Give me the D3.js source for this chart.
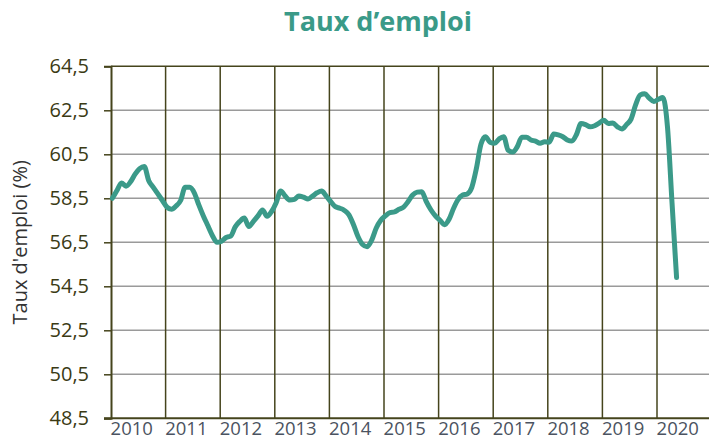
<!DOCTYPE html>
<html>
<head>
<meta charset="utf-8">
<script src="https://cdn.jsdelivr.net/npm/d3@7"></script>
<style>
    body { margin: 0; background: #fff; }
    svg { display: block; font-family: 'Open Sans', sans-serif; }
</style>
</head>
<body>
<div id="chart"></div>
<script>
// Monthly values, Jan 2010 -> May 2020.
const START_YEAR = 2010;
const VALUES_2010 = [58.5, 58.85, 59.2, 59.05, 59.25, 59.6, 59.85, 59.95, 59.3, 59.0, 58.7, 58.4];
const VALUES_2011 = [58.1, 58.0, 58.15, 58.4, 59.0, 59.0, 58.75, 58.2, 57.7, 57.25, 56.8, 56.5];
const VALUES_2012 = [56.55, 56.72, 56.78, 57.2, 57.45, 57.6, 57.22, 57.45, 57.7, 57.97, 57.68, 57.9];
const VALUES_2013 = [58.3, 58.83, 58.6, 58.42, 58.45, 58.6, 58.55, 58.47, 58.6, 58.75, 58.83, 58.6];
const VALUES_2014 = [58.35, 58.12, 58.05, 57.95, 57.75, 57.3, 56.75, 56.4, 56.3, 56.6, 57.15, 57.5];
const VALUES_2015 = [57.7, 57.85, 57.88, 58.0, 58.1, 58.35, 58.65, 58.78, 58.8, 58.35, 57.98, 57.7];
const VALUES_2016 = [57.5, 57.3, 57.55, 58.05, 58.45, 58.65, 58.7, 59.0, 59.85, 60.95, 61.3, 61.05];
const VALUES_2017 = [61.0, 61.2, 61.3, 60.68, 60.6, 60.85, 61.28, 61.28, 61.15, 61.1, 61.0, 61.07];
const VALUES_2018 = [61.05, 61.42, 61.38, 61.3, 61.15, 61.1, 61.4, 61.9, 61.85, 61.75, 61.8, 61.92];
const VALUES_2019 = [62.05, 61.9, 61.92, 61.75, 61.65, 61.85, 62.1, 62.75, 63.2, 63.25, 63.05, 62.9];
const VALUES_2020 = [63.0, 63.08, 61.75, 58.3, 54.9];

const YEARS = [2010, 2011, 2012, 2013, 2014, 2015, 2016, 2017, 2018, 2019, 2020];
const Y_TICKS = [48.5, 50.5, 52.5, 54.5, 56.5, 58.5, 60.5, 62.5, 64.5];

const values = [].concat(VALUES_2010, VALUES_2011, VALUES_2012, VALUES_2013, VALUES_2014,
    VALUES_2015, VALUES_2016, VALUES_2017, VALUES_2018, VALUES_2019, VALUES_2020);

const width = 709, height = 439;
const margin = {top: 66.3, left: 111, bottom: 418.3};
const olive = '#45441c';

const svg = d3.select('#chart').append('svg')
    .attr('width', width)
    .attr('height', height);

const x = d3.scaleLinear().domain([2010, 2021]).range([margin.left, 711.6]);
const y = d3.scaleLinear().domain([48.5, 64.5]).range([margin.bottom, margin.top]);

// Horizontal grid lines.
svg.append('g').selectAll('line')
    .data(Y_TICKS.slice(1, -1))
    .join('line')
    .attr('x1', x(2010)).attr('x2', width)
    .attr('y1', d => y(d)).attr('y2', d => y(d))
    .attr('stroke', '#9a9a9a')
    .attr('stroke-width', 1.5);

// Top border.
svg.append('line')
    .attr('x1', x(2010)).attr('x2', width)
    .attr('y1', y(64.5)).attr('y2', y(64.5))
    .attr('stroke', olive).attr('stroke-width', 1.5);

// Vertical year lines.
svg.append('g').selectAll('line')
    .data(YEARS.slice(1))
    .join('line')
    .attr('x1', d => x(d)).attr('x2', d => x(d))
    .attr('y1', y(64.5)).attr('y2', y(48.5))
    .attr('stroke', olive)
    .attr('stroke-width', 1.5);

// Y axis with ticks to the left.
const yAxisG = svg.append('g')
    .attr('transform', `translate(${x(2010)},0)`)
    .call(d3.axisLeft(y).tickValues(Y_TICKS).tickSize(7).tickPadding(15)
        .tickFormat(d => d3.format('.1f')(d).replace('.', ',')));
yAxisG.select('.domain').attr('stroke', olive).attr('stroke-width', 2);
yAxisG.selectAll('.tick line').attr('stroke', olive).attr('stroke-width', 1.5);
yAxisG.selectAll('.tick text')
    .attr('fill', '#3b3a14')
    .style('font-size', '20px')
    .style('font-family', "'Open Sans', sans-serif");

// Bottom axis line.
svg.append('line')
    .attr('x1', x(2010) - 7).attr('x2', width)
    .attr('y1', y(48.5)).attr('y2', y(48.5))
    .attr('stroke', olive).attr('stroke-width', 2);

// Year labels.
svg.append('g').selectAll('text')
    .data(YEARS)
    .join('text')
    .attr('x', d => x(d + 0.38))
    .attr('y', 435)
    .attr('text-anchor', 'middle')
    .attr('fill', '#4b5361')
    .style('font-size', '18.5px')
    .text(d => d);

// The line.
const line = d3.line()
    .x((_, i) => x(START_YEAR + (i + 0.3) / 12))
    .y(d => y(d))
    .curve(d3.curveMonotoneX);

svg.append('path')
    .datum(values)
    .attr('d', line)
    .attr('fill', 'none')
    .attr('stroke', '#3b9a89')
    .attr('stroke-width', 5)
    .attr('stroke-linejoin', 'round')
    .attr('stroke-linecap', 'round');

// Title.
svg.append('text')
    .attr('x', 378)
    .attr('y', 31)
    .attr('text-anchor', 'middle')
    .attr('fill', '#3a9a88')
    .style('font-size', '27px')
    .style('font-weight', 'bold')
    .text('Taux d’emploi');

// Y axis title.
svg.append('text')
    .attr('transform', `translate(27,${(margin.top + margin.bottom) / 2}) rotate(-90)`)
    .attr('text-anchor', 'middle')
    .attr('fill', '#333')
    .style('font-size', '20px')
    .text("Taux d'emploi (%)");
</script>
</body>
</html>
